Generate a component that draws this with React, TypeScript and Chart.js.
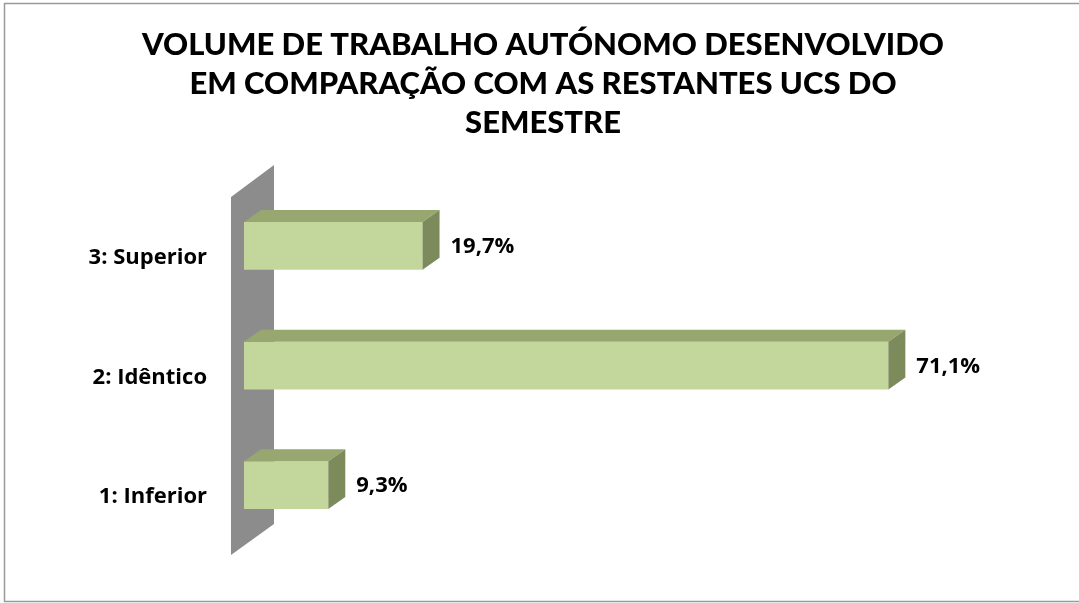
import React, { useEffect, useRef } from "react";
import { Chart, registerables } from "chart.js";

Chart.register(...registerables);

const titleLines = [
  "VOLUME DE TRABALHO AUTÓNOMO DESENVOLVIDO",
  "EM COMPARAÇÃO COM AS RESTANTES UCS DO",
  "SEMESTRE",
];
const categories = ["1: Inferior", "2: Idêntico", "3: Superior"];
const values = [9.3, 71.1, 19.7];
const axisMin = 0;
const axisMax = 80;

const FRONT = "#c3d69b";
const TOP = "#98a670";
const SIDE = "#7d8a5c";
const WALL = "#8c8c8c";
const DX = 17;
const DY = -12;
const LABEL_FONT = "'Open Sans'";

const threeD = {
  id: "threeD",
  beforeDatasetsDraw(chart: any) {
    const { ctx, chartArea } = chart;
    const l = chartArea.left;
    const t = chartArea.top;
    const b = chartArea.bottom;
    ctx.save();
    ctx.fillStyle = WALL;
    ctx.beginPath();
    ctx.moveTo(l - 13, t + 11);
    ctx.lineTo(l + 30, t - 21);
    ctx.lineTo(l + 30, b - 21);
    ctx.lineTo(l - 13, b + 10);
    ctx.closePath();
    ctx.fill();
    ctx.restore();
  },
  afterDatasetsDraw(chart: any) {
    const { ctx } = chart;
    const meta = chart.getDatasetMeta(0);
    ctx.save();
    meta.data.forEach((bar: any, i: number) => {
      const x = bar.x;
      const base = bar.base;
      const top = bar.y - bar.height / 2;
      const bot = bar.y + bar.height / 2;
      ctx.fillStyle = TOP;
      ctx.beginPath();
      ctx.moveTo(base, top);
      ctx.lineTo(x, top);
      ctx.lineTo(x + DX, top + DY);
      ctx.lineTo(base + DX, top + DY);
      ctx.closePath();
      ctx.fill();
      ctx.fillStyle = SIDE;
      ctx.beginPath();
      ctx.moveTo(x, top);
      ctx.lineTo(x + DX, top + DY);
      ctx.lineTo(x + DX, bot + DY);
      ctx.lineTo(x, bot);
      ctx.closePath();
      ctx.fill();
      const v = values[i];
      ctx.fillStyle = "#000";
      ctx.font = "bold 22px " + LABEL_FONT;
      ctx.textAlign = "left";
      ctx.textBaseline = "middle";
      ctx.fillText(v.toFixed(1).replace(".", ",") + "%", x + 28, bar.y + 1);
    });
    ctx.restore();
  },
  afterDraw(chart: any) {
    const { ctx } = chart;
    ctx.save();
    ctx.strokeStyle = "#9a9a9a";
    ctx.lineWidth = 1.5;
    ctx.strokeRect(4.5, 3.5, 1100, 598);
    ctx.restore();
  },
};

export default function App() {
  const ref = useRef<HTMLCanvasElement | null>(null);
  useEffect(() => {
    if (!ref.current) return;
    const chart = new Chart(ref.current, {
      type: "bar",
      data: {
        labels: categories,
        datasets: [
          {
            data: values,
            backgroundColor: FRONT,
            borderWidth: 0,
            categoryPercentage: 1,
            barPercentage: 0.4,
          },
        ],
      },
      options: {
        indexAxis: "y",
        responsive: false,
        animation: false,
        layout: { padding: { left: 7, right: 0, top: 0, bottom: 58 } },
        plugins: {
          legend: { display: false },
          tooltip: { enabled: false },
          title: {
            display: true,
            text: titleLines,
            color: "#000",
            font: { family: "Lato", weight: "900", size: 31, lineHeight: 1.27 },
            padding: { top: 25, bottom: 43 },
          },
        },
        scales: {
          x: { display: false, min: axisMin, max: axisMax },
          y: {
            reverse: true,
            grid: { display: false },
            border: { display: false },
            ticks: {
              color: "#000",
              font: { family: "Open Sans", weight: "bold", size: 22 },
              padding: 29,
              labelOffset: 12,
            },
            afterFit: (axis: any) => {
              axis.width = 237;
            },
          },
          yRight: {
            type: "category",
            position: "right",
            grid: { display: false },
            border: { display: false },
            ticks: { display: false },
            afterFit: (axis: any) => {
              axis.width = 110;
            },
          },
        },
      },
      plugins: [threeD],
    });
    return () => chart.destroy();
  }, []);
  return (
    <div style={{ position: "absolute", left: 0, top: 0, width: 1079, height: 603, background: "#fff" }}>
      <canvas ref={ref} width={1079} height={603} style={{ display: "block" }} />
    </div>
  );
}
